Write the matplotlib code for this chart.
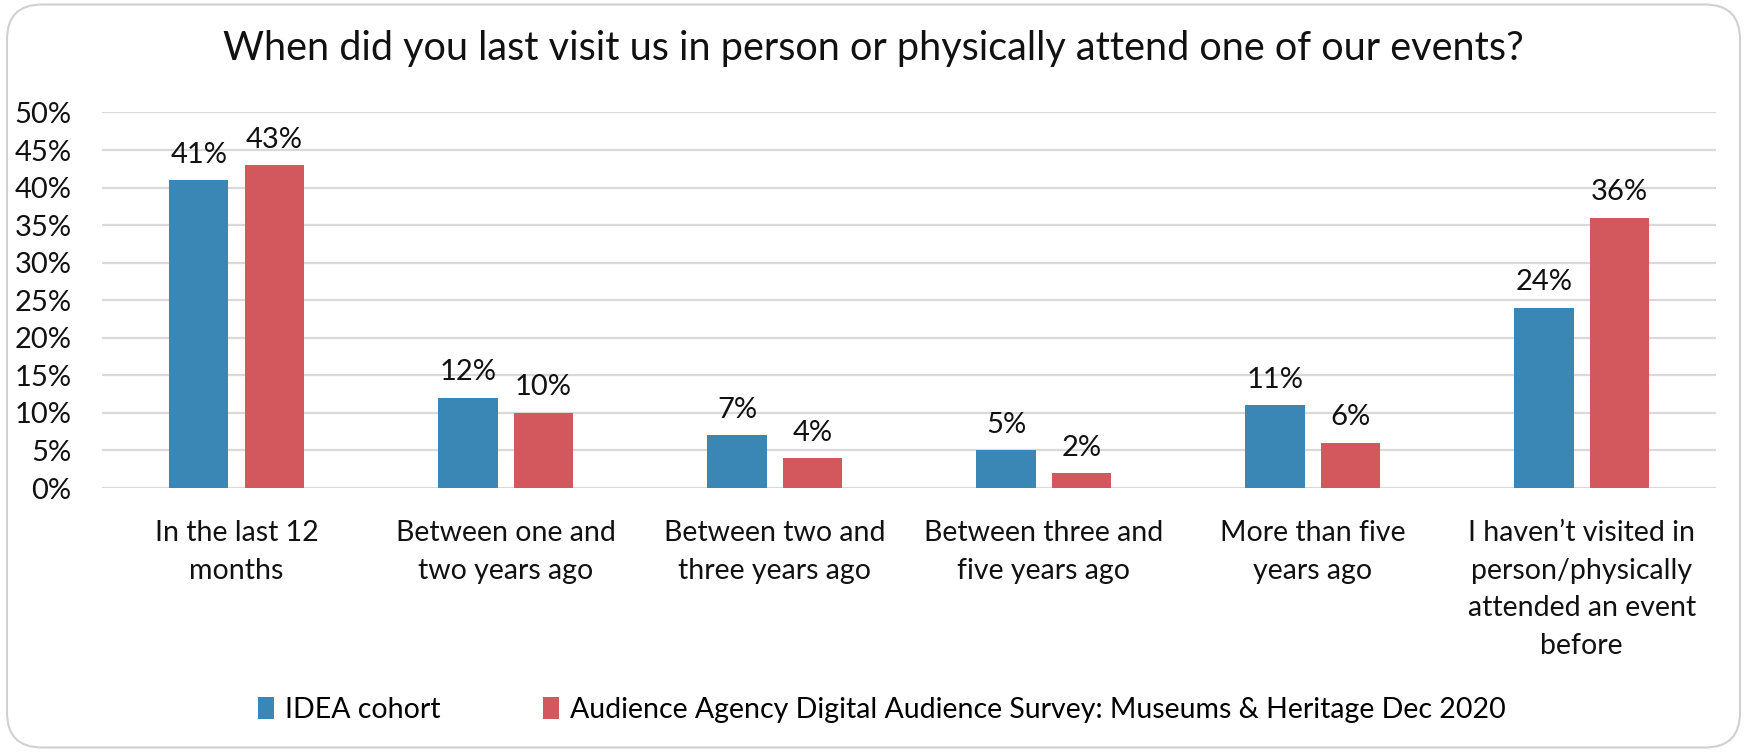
import matplotlib
matplotlib.use("Agg")
import matplotlib.pyplot as plt
from matplotlib.patches import FancyBboxPatch
from matplotlib.ticker import MultipleLocator, FuncFormatter
import numpy as np

plt.rcParams['font.family'] = ['Lato', 'DejaVu Sans']

categories = ['In the last 12\nmonths', 'Between one and\ntwo years ago',
              'Between two and\nthree years ago', 'Between three and\nfive years ago',
              'More than five\nyears ago',
              'I haven\u2019t visited in\nperson/physically\nattended an event\nbefore']
idea = [41, 12, 7, 5, 11, 24]
audience = [43, 10, 4, 2, 6, 36]
series_names = ['IDEA cohort',
                'Audience Agency Digital Audience Survey: Museums & Heritage Dec 2020']

blue = '#3A86B4'
red = '#D2585E'

fig = plt.figure(figsize=(17.47, 7.52), dpi=100)
ax = fig.add_axes([0.0584, 0.351, 0.924, 0.4994])

# rounded grey frame around the whole chart
frame = FancyBboxPatch((0.004, 0.006), 0.992, 0.988, boxstyle='round,pad=0,rounding_size=0.02',
                       transform=fig.transFigure, facecolor='white', edgecolor='#D0D0D0',
                       linewidth=1.5, zorder=-10, mutation_aspect=17.47 / 7.52)
fig.patches.append(frame)

x = np.arange(len(categories))
w = 0.22
off = 0.14
b1 = ax.bar(x - off, idea, w, color=blue, label=series_names[0], zorder=3)
b2 = ax.bar(x + off, audience, w, color=red, label=series_names[1], zorder=3)

for bars, vals in ((b1, idea), (b2, audience)):
    for rect, v in zip(bars, vals):
        ax.annotate(f'{v}%', (rect.get_x() + rect.get_width() / 2, v),
                    xytext=(0, 9), textcoords='offset points',
                    ha='center', va='bottom', fontsize=21, color='#111111')

ax.set_xlim(-0.5, 5.5)
ax.set_ylim(0, 50)
ax.yaxis.set_major_locator(MultipleLocator(5))
ax.yaxis.set_major_formatter(FuncFormatter(lambda v, p: f'{v:.0f}%'))
ax.grid(axis='y', color='#D9D9D9', linewidth=1.6, zorder=0)
ax.set_axisbelow(True)
for s in ax.spines.values():
    s.set_visible(False)
ax.tick_params(axis='both', length=0, labelsize=21, colors='#111111')
ax.tick_params(axis='y', pad=22)
ax.tick_params(axis='x', pad=23)
ax.set_xticks(x)
ax.set_xticklabels(categories, linespacing=1.55, va='top', fontsize=20.5)

fig.text(0.5, 0.935, 'When did you last visit us in person or physically attend one of our events?',
         ha='center', va='center', fontsize=28.5, color='#111111')

fig.legend(handles=[b1, b2], loc='center', bbox_to_anchor=(0.505, 0.056), ncol=2,
           frameon=False, fontsize=20.5, handlelength=0.55, handleheight=0.8,
           handletextpad=0.4, columnspacing=3.6)

fig.savefig('out.png', dpi=100)
